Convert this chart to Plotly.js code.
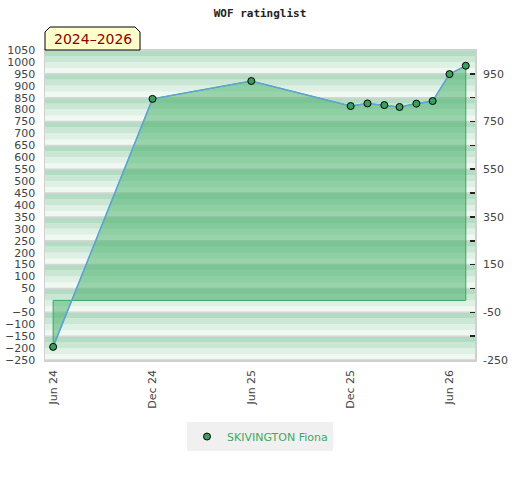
<!DOCTYPE html>
<html>
<head>
<meta charset="utf-8">
<script src="https://cdn.plot.ly/plotly-3.0.1.min.js"></script>
<style>html,body{margin:0;padding:0;background:#fff;}#chart{width:520px;height:480px;}</style>
</head>
<body>
<div id="chart"></div>
<script>
// ---- data ----
const playerName = "SKIVINGTON Fiona";
const periodLabel = "2024–2026";
const chartTitle = "WOF ratinglist";
const dates = ["2024-06-01","2024-12-01","2025-06-01","2025-12-01","2026-01-01","2026-02-01","2026-03-01","2026-04-01","2026-05-01","2026-06-01","2026-07-01"];
const ratings = [-195, 845, 920, 815, 826, 819, 811, 825, 836, 949, 984];
const xTickVals = ["2024-06-01","2024-12-01","2025-06-01","2025-12-01","2026-06-01"];
const xTickText = ["Jun 24","Dec 24","Jun 25","Dec 25","Jun 26"];
const leftTicks = [-250,-200,-150,-100,-50,0,50,100,150,200,250,300,350,400,450,500,550,600,650,700,750,800,850,900,950,1000,1050];
const rightTicks = [-250,-150,-50,50,150,250,350,450,550,650,750,850,950];
const rightTickText = ["-250","","-50","","150","","350","","550","","750","","950"];
const yMin = -250, yMax = 1050;

// ---- background stripes ----
const shapes = [];
const stripeCols = ["#f0f8f2","#dff0e5","#cae7d5","#b4dcc3"];
for (let b = yMin; b < yMax; b += 100) {
  for (let q = 0; q < 4; q++) {
    shapes.push({type:"rect", xref:"paper", yref:"y", x0:0, x1:1, y0:b+q*25, y1:b+(q+1)*25,
      fillcolor:stripeCols[q], line:{width:0}, layer:"below"});
  }
}
for (let b = yMin; b <= yMax; b += 100) {
  shapes.push({type:"line", xref:"paper", yref:"y", x0:0, x1:1, y0:b, y1:b,
    line:{color:"#d6d6d6", width:1.5}, layer:"below"});
}
// period label box with chamfered top corners (paper coords)
const pw = 430, ph = 310;
const bx0 = 0, bx1 = 95/pw, by0 = 1.0, by1 = 1 + 23/ph, cx = 5/pw, cy = 5/ph;
shapes.push({type:"path", xref:"paper", yref:"paper",
  path:`M ${bx0} ${by0} L ${bx0} ${by1-cy} L ${bx0+cx} ${by1} L ${bx1-cx} ${by1} L ${bx1} ${by1-cy} L ${bx1} ${by0} Z`,
  fillcolor:"#ffffcc", line:{color:"#000", width:1}});

// ---- traces ----
const polyX = dates.concat([dates[dates.length-1], dates[0], dates[0]]);
const polyY = ratings.concat([0, 0, ratings[0]]);
const traces = [
  {x: polyX, y: polyY, type:"scatter", mode:"lines", fill:"toself",
   fillcolor:"rgba(64,174,100,0.5)", line:{color:"#33aa5c", width:1}, showlegend:false, hoverinfo:"skip"},
  {x: dates, y: ratings, type:"scatter", mode:"lines", line:{color:"#5fa3d8", width:1.5}, showlegend:false},
  {x: dates, y: ratings, type:"scatter", mode:"markers", name: playerName,
   marker:{color:"#3a9e5e", size:7, line:{color:"#000", width:1}}},
  {x: [dates[0]], y: [ratings[0]], yaxis:"y2", type:"scatter", mode:"markers", marker:{opacity:0}, showlegend:false, hoverinfo:"skip"}
];

const tickFont = {family:"DejaVu Sans, sans-serif", size:11, color:"#444"};
const layout = {
  width:520, height:480,
  margin:{l:45, r:45, t:50, b:120},
  paper_bgcolor:"#fff", plot_bgcolor:"#fff",
  title:{text:chartTitle, x:0.5, xanchor:"center", y:0.973, yanchor:"middle",
    font:{family:"DejaVu Sans Mono, monospace", size:11, color:"#222", weight:"bold"}},
  xaxis:{type:"date", range:["2024-05-17","2026-07-18"], tickvals:xTickVals, ticktext:xTickText,
    tickangle:-90, ticks:"", showgrid:false, zeroline:false, tickfont:tickFont,
    showline:true, linecolor:"#d0d0d0", linewidth:1.5, mirror:true, ticklabelstandoff:4},
  yaxis:{range:[yMin,yMax], tickvals:leftTicks, ticks:"", showgrid:false, zeroline:false,
    tickfont:tickFont, showline:true, linecolor:"#d0d0d0", linewidth:1.5, mirror:true, ticklabelstandoff:6},
  yaxis2:{range:[yMin,yMax], overlaying:"y", side:"right", tickvals:rightTicks, ticktext:rightTickText,
    ticks:"inside", ticklen:5, tickcolor:"#222", tickwidth:1.5, showgrid:false, zeroline:false,
    showline:false, tickfont:tickFont, ticklabelstandoff:7},
  showlegend:true,
  legend:{orientation:"h", x:0.5, xanchor:"center", y:-0.247, yanchor:"middle",
    itemwidth:30, bgcolor:"#f0f0f0", font:{family:"DejaVu Sans, sans-serif", size:11, color:"#3cab62"}},
  shapes: shapes,
  annotations:[{text:periodLabel, xref:"paper", yref:"paper", x:(bx0+bx1)/2, y:(by0+by1)/2,
    xanchor:"center", yanchor:"middle", showarrow:false,
    font:{family:"DejaVu Sans, sans-serif", size:14, color:"#8b0000"}}]
};
Plotly.newPlot("chart", traces, layout, {displayModeBar:false, staticPlot:true});
</script>
</body>
</html>
